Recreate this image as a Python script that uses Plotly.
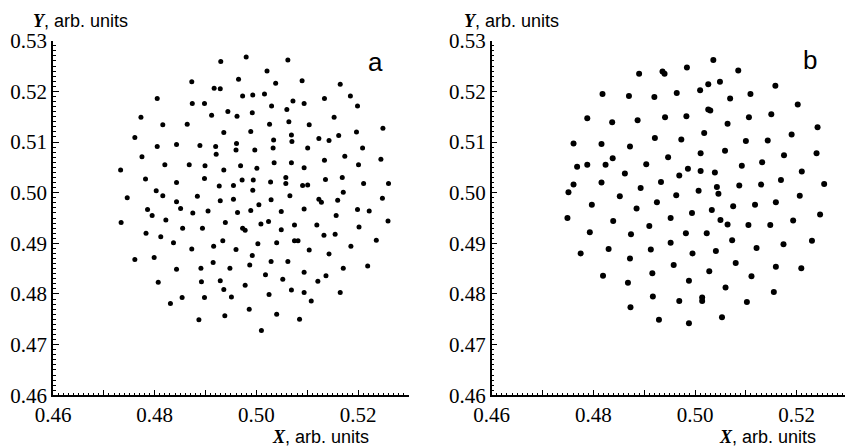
import plotly.graph_objects as go

W, H = 845, 446

# ---------------- data ----------------
a_x = [0.4980,0.4930,0.5062,0.5021,0.4965,0.4873,0.5090,0.5038,0.5165,0.4917,
       0.4929,0.4973,0.4993,0.5016,0.5185,0.4805,0.5134,0.4874,0.4898,0.5072,
       0.5094,0.5030,0.5199,0.5060,0.4992,0.4944,0.4912,0.4962,0.4773,0.5153,
       0.5064,0.4816,0.4864,0.5026,0.5104,0.4936,0.4989,0.5249,0.5197,0.4761,
       0.5069,0.5034,0.5123,0.5143,0.5162,0.4843,0.4889,0.4920,0.4961,0.4805,
       0.5070,0.5033,0.5101,0.5209,0.4775,0.4921,0.4960,0.4997,0.5174,0.5245,
       0.5134,0.4820,0.4868,0.4899,0.4969,0.5035,0.5069,0.5001,0.5094,0.5201,
       0.4936,0.4733,0.4782,0.4898,0.4843,0.4972,0.4994,0.5028,0.5058,0.5136,
       0.5169,0.4927,0.4955,0.4993,0.5058,0.5091,0.5101,0.5211,0.5260,0.4803,
       0.4816,0.4746,0.4884,0.4929,0.4955,0.5029,0.5066,0.5123,0.5128,0.5160,
       0.5171,0.5248,0.4843,0.4786,0.4795,0.4851,0.4875,0.4905,0.4963,0.4989,
       0.5005,0.5049,0.5094,0.5157,0.5199,0.5222,0.4734,0.4822,0.4939,0.5024,
       0.5075,0.4973,0.4978,0.5009,0.5049,0.5119,0.5259,0.5202,0.4783,0.4855,
       0.4894,0.4812,0.5133,0.5155,0.4837,0.4934,0.4873,0.4916,0.4960,0.5003,
       0.5040,0.5075,0.5082,0.5104,0.5186,0.5236,0.4761,0.4799,0.4992,0.5143,
       0.4843,0.4891,0.4915,0.4948,0.4987,0.5029,0.5062,0.5171,0.5219,0.5018,
       0.5094,0.5137,0.4807,0.4892,0.4929,0.4978,0.5052,0.5121,0.4936,0.5069,
       0.5094,0.5165,0.4854,0.4898,0.4951,0.5025,0.5108,0.4831,0.4986,0.5040,
       0.4938,0.4887,0.5085,0.5010]
a_y = [0.5268,0.5259,0.5262,0.5240,0.5224,0.5219,0.5221,0.5216,0.5214,0.5206,
       0.5205,0.5191,0.5193,0.5195,0.5191,0.5186,0.5186,0.5176,0.5176,0.5181,
       0.5176,0.5171,0.5171,0.5164,0.5158,0.5160,0.5153,0.5151,0.5149,0.5149,
       0.5140,0.5134,0.5135,0.5135,0.5134,0.5119,0.5121,0.5127,0.5120,0.5109,
       0.5114,0.5104,0.5107,0.5103,0.5113,0.5095,0.5093,0.5091,0.5097,0.5091,
       0.5101,0.5088,0.5088,0.5088,0.5071,0.5076,0.5084,0.5084,0.5072,0.5066,
       0.5064,0.5055,0.5055,0.5053,0.5053,0.5059,0.5059,0.5048,0.5049,0.5055,
       0.5045,0.5045,0.5027,0.5028,0.5020,0.5025,0.5025,0.5021,0.5030,0.5026,
       0.5030,0.5013,0.5014,0.5005,0.5018,0.5014,0.5015,0.5018,0.5018,0.5004,
       0.4994,0.4990,0.4993,0.4984,0.4987,0.4986,0.4994,0.4987,0.4981,0.4985,
       0.5001,0.4989,0.4982,0.4967,0.4955,0.4969,0.4960,0.4964,0.4961,0.4965,
       0.4976,0.4963,0.4968,0.4955,0.4967,0.4964,0.4941,0.4946,0.4941,0.4943,
       0.4936,0.4930,0.4926,0.4938,0.4927,0.4936,0.4944,0.4932,0.4920,0.4930,
       0.4930,0.4913,0.4916,0.4918,0.4901,0.4905,0.4889,0.4894,0.4888,0.4899,
       0.4901,0.4905,0.4905,0.4887,0.4894,0.4906,0.4868,0.4872,0.4876,0.4879,
       0.4849,0.4851,0.4862,0.4851,0.4857,0.4864,0.4864,0.4851,0.4855,0.4838,
       0.4843,0.4836,0.4823,0.4824,0.4826,0.4817,0.4829,0.4825,0.4809,0.4808,
       0.4803,0.4803,0.4793,0.4793,0.4794,0.4799,0.4786,0.4781,0.4770,0.4760,
       0.4757,0.4749,0.4750,0.4728]

b_x = [0.5036,0.4890,0.4936,0.4940,0.4984,0.5085,0.5026,0.5049,0.5010,0.5158,
       0.4818,0.4870,0.4920,0.4964,0.5069,0.5109,0.5202,0.5026,0.5030,0.4788,
       0.4837,0.4887,0.4941,0.4983,0.5064,0.5106,0.5150,0.5241,0.5018,0.5190,
       0.4761,0.4816,0.4872,0.4921,0.4973,0.5100,0.5143,0.5239,0.4947,0.5011,
       0.5059,0.5175,0.4838,0.4768,0.4788,0.4824,0.4904,0.5092,0.5132,0.4862,
       0.4969,0.4986,0.5011,0.5039,0.5210,0.4816,0.4761,0.4933,0.5169,0.5087,
       0.5130,0.5043,0.4751,0.4893,0.5007,0.5254,0.4852,0.4963,0.4925,0.5046,
       0.5206,0.4797,0.4885,0.4994,0.5033,0.5075,0.5118,0.5159,0.4749,0.4839,
       0.4952,0.5050,0.4910,0.5023,0.5064,0.5105,0.5148,0.5193,0.5246,0.4793,
       0.4874,0.4982,0.5073,0.5230,0.4775,0.4830,0.4913,0.4952,0.4995,0.5041,
       0.5121,0.5174,0.4872,0.4958,0.5080,0.5159,0.5209,0.4819,0.4916,0.5028,
       0.5111,0.4868,0.4988,0.4917,0.5014,0.5014,0.5060,0.5155,0.5102,0.4873,
       0.4969,0.4929,0.4988,0.5053]
b_y = [0.5262,0.5235,0.5239,0.5235,0.5247,0.5241,0.5214,0.5219,0.5202,0.5211,
       0.5195,0.5191,0.5189,0.5197,0.5186,0.5195,0.5174,0.5164,0.5162,0.5147,
       0.5139,0.5143,0.5149,0.5151,0.5136,0.5149,0.5155,0.5129,0.5118,0.5115,
       0.5097,0.5096,0.5091,0.5108,0.5105,0.5102,0.5103,0.5078,0.5070,0.5078,
       0.5083,0.5074,0.5068,0.5051,0.5055,0.5055,0.5056,0.5053,0.5060,0.5038,
       0.5034,0.5047,0.5043,0.5040,0.5042,0.5020,0.5016,0.5021,0.5025,0.5014,
       0.5016,0.5011,0.5001,0.5009,0.5004,0.5017,0.4993,0.4995,0.4981,0.4998,
       0.4994,0.4976,0.4969,0.4960,0.4966,0.4973,0.4976,0.4981,0.4950,0.4944,
       0.4950,0.4946,0.4934,0.4920,0.4937,0.4936,0.4936,0.4945,0.4957,0.4922,
       0.4918,0.4920,0.4906,0.4905,0.4880,0.4889,0.4888,0.4901,0.4880,0.4885,
       0.4891,0.4898,0.4870,0.4857,0.4861,0.4854,0.4851,0.4836,0.4841,0.4845,
       0.4835,0.4822,0.4826,0.4795,0.4793,0.4786,0.4813,0.4804,0.4784,0.4774,
       0.4786,0.4749,0.4742,0.4754]

x_tickvals = [0.46, 0.47, 0.48, 0.49, 0.50, 0.51, 0.52, 0.53]
x_ticktext = ["0.46", "", "0.48", "", "0.50", "", "0.52", ""]
y_tickvals = [0.46, 0.47, 0.48, 0.49, 0.50, 0.51, 0.52, 0.53]
y_ticktext = ["0.46", "0.47", "0.48", "0.49", "0.50", "0.51", "0.52", "0.53"]
panel_labels = ["a", "b"]
axis_x_title = "<span style='font-family:Liberation Serif'><i><b>X</b></i></span>, arb. units"
axis_y_title = "<span style='font-family:Liberation Serif'><i><b>Y</b></i></span>, arb. units"

# ---------------- layout geometry (pixels) ----------------
px_per_unit = 101.67 / 0.02
a_left = 53.0
b_left = 491.7
y_bottom_px = 395.3
y_top_px = 40.7

def fx(p):
    return p / W

def fy(p):
    return 1 - p / H

fig = go.Figure()
fig.add_trace(go.Scatter(x=a_x, y=a_y, mode="markers",
                         marker=dict(size=5, color="black"),
                         xaxis="x", yaxis="y", showlegend=False, hoverinfo="skip"))
fig.add_trace(go.Scatter(x=b_x, y=b_y, mode="markers",
                         marker=dict(size=6, color="black"),
                         xaxis="x2", yaxis="y2", showlegend=False, hoverinfo="skip"))

serif = "Liberation Serif, Times New Roman, serif"
common = dict(showline=True, linecolor="black", linewidth=1.5, showgrid=False,
              zeroline=False, ticks="inside", ticklen=6, tickwidth=1.2,
              tickcolor="black", tickmode="array",
              automargin=False,
              minor=dict(ticks="inside", ticklen=3, tickwidth=1, tickcolor="black",
                         dtick=0.001, tick0=0.46, showgrid=False))
xfont = dict(family=serif, size=21, color="black")
yfont = dict(family=serif, size=21, color="black")

a_right = a_left + 0.07 * px_per_unit
b_range_end = 0.46 + (W - b_left) / px_per_unit

fig.update_layout(
    width=W, height=H, margin=dict(l=0, r=0, t=0, b=0, autoexpand=False),
    paper_bgcolor="white", plot_bgcolor="white",
    font=dict(family=serif, color="black"),
    xaxis=dict(domain=[fx(a_left), fx(a_right)], range=[0.46, 0.53], anchor="y",
               tickvals=x_tickvals, ticktext=x_ticktext, tickfont=xfont, **common),
    yaxis=dict(domain=[fy(y_bottom_px), fy(y_top_px)], range=[0.46, 0.53], anchor="x",
               tickvals=y_tickvals, ticktext=y_ticktext, tickfont=yfont, **common),
    xaxis2=dict(domain=[fx(b_left), 1.0], range=[0.46, b_range_end], anchor="y2",
                tickvals=x_tickvals, ticktext=x_ticktext, tickfont=xfont, **common),
    yaxis2=dict(domain=[fy(y_bottom_px), fy(y_top_px)], range=[0.46, 0.53], anchor="x2",
                tickvals=y_tickvals, ticktext=y_ticktext, tickfont=yfont, **common),
)

yt_font = dict(family="Liberation Sans", size=18, color="black")
xt_font = dict(family="Liberation Sans", size=18, color="black")
annotations = [
    dict(text=axis_y_title, x=fx(31), y=fy(21), xanchor="left", yanchor="middle", font=yt_font),
    dict(text=axis_x_title, x=fx(371), y=fy(437), xanchor="right", yanchor="middle", font=xt_font),
    dict(text=axis_y_title, x=fx(462), y=fy(21), xanchor="left", yanchor="middle", font=yt_font),
    dict(text=axis_x_title, x=fx(818), y=fy(437), xanchor="right", yanchor="middle", font=xt_font),
    dict(text=panel_labels[0], x=fx(375), y=fy(62), xanchor="center", yanchor="middle",
         font=dict(family="Liberation Sans", size=26, color="black")),
    dict(text=panel_labels[1], x=fx(810), y=fy(60), xanchor="center", yanchor="middle",
         font=dict(family="Liberation Sans", size=26, color="black")),
]
for a in annotations:
    a.update(xref="paper", yref="paper", showarrow=False)
fig.update_layout(annotations=annotations)

fig.write_html("out.html")
